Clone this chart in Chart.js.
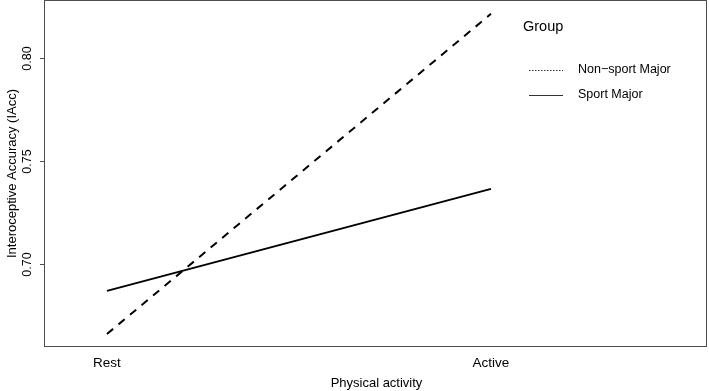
<!DOCTYPE html>
<html><head><meta charset="utf-8">
<script src="https://cdn.jsdelivr.net/npm/chart.js@4/dist/chart.umd.min.js"></script>
<style>html,body{margin:0;padding:0;background:#fff}#wrap{width:709px;height:391px}</style>
</head><body><div id="wrap"><canvas id="c" width="709" height="391"></canvas></div>
<script>
const categories = ["Rest", "Active"];
const groupNames = ["Non\u2212sport Major", "Sport Major"];
const nonSport = [0.6663, 0.8214];
const sport = [0.6872, 0.7366];
const yTicks = [0.70, 0.75, 0.80];
const xTitle = "Physical activity";
const yTitle = "Interoceptive Accuracy (IAcc)";
const legendTitle = "Group";

const FF = '"Liberation Sans", Arial, sans-serif';
const toPts = arr => arr.map((v, i) => ({x: i + 1, y: v}));

const decor = {
  id: 'decor',
  afterDraw(chart) {
    const ctx = chart.ctx, a = chart.chartArea;
    const xs = chart.scales.x, ys = chart.scales.y;
    ctx.save();
    ctx.strokeStyle = '#4d4d4d'; ctx.lineWidth = 1;
    ctx.strokeRect(Math.round(a.left) + 0.5, Math.round(a.top) + 0.5, Math.round(a.right - a.left) - 1, Math.round(a.bottom - a.top) - 1);
    ctx.fillStyle = '#000';
    // y ticks
    ctx.font = '12.5px ' + FF;
    yTicks.forEach(v => {
      const py = Math.round(ys.getPixelForValue(v)) + 0.5;
      ctx.beginPath(); ctx.moveTo(a.left - 4, py); ctx.lineTo(a.left, py); ctx.stroke();
      ctx.save(); ctx.translate(28, py); ctx.rotate(-Math.PI / 2);
      ctx.textAlign = 'center'; ctx.textBaseline = 'middle';
      ctx.fillText(v.toFixed(2), 0, 0); ctx.restore();
    });
    // x labels
    ctx.font = '13.5px ' + FF;
    ctx.textAlign = 'center'; ctx.textBaseline = 'middle';
    categories.forEach((c, i) => ctx.fillText(c, xs.getPixelForValue(i + 1), 363));
    ctx.font = '13px ' + FF;
    ctx.fillText(xTitle, (a.left + a.right) / 2 + 1, 383);
    ctx.save(); ctx.translate(12, (a.top + a.bottom) / 2); ctx.rotate(-Math.PI / 2);
    ctx.fillText(yTitle, 0, 0); ctx.restore();
    // legend
    ctx.textAlign = 'left';
    ctx.font = '14.5px ' + FF;
    ctx.fillText(legendTitle, 523, 27);
    ctx.font = '12.5px ' + FF;
    const ly = [70, 95];
    groupNames.forEach((n, i) => {
      ctx.beginPath();
      ctx.strokeStyle = '#333'; ctx.lineWidth = 1;
      ctx.setLineDash(i === 0 ? [1.5, 1.5] : []);
      ctx.moveTo(529, ly[i] + 0.5); ctx.lineTo(563, ly[i] + 0.5); ctx.stroke();
      ctx.setLineDash([]);
      ctx.fillText(n, 578, ly[i]);
    });
    ctx.restore();
  }
};

new Chart(document.getElementById('c'), {
  type: 'line',
  data: {
    datasets: [
      {label: groupNames[0], data: toPts(nonSport), borderColor: '#000', borderWidth: 2, borderDash: [8, 7], pointRadius: 0, fill: false, tension: 0},
      {label: groupNames[1], data: toPts(sport), borderColor: '#000', borderWidth: 2, pointRadius: 0, fill: false, tension: 0}
    ]
  },
  options: {
    responsive: false, animation: false,
    layout: {padding: {left: 44, top: 0, right: 2, bottom: 44}},
    plugins: {legend: {display: false}, tooltip: {enabled: false}},
    scales: {
      x: {type: 'linear', display: false, min: 0.836, max: 2.5625},
      y: {type: 'linear', display: false, min: 0.6600, max: 0.8281}
    }
  },
  plugins: [decor]
});
</script></body></html>
